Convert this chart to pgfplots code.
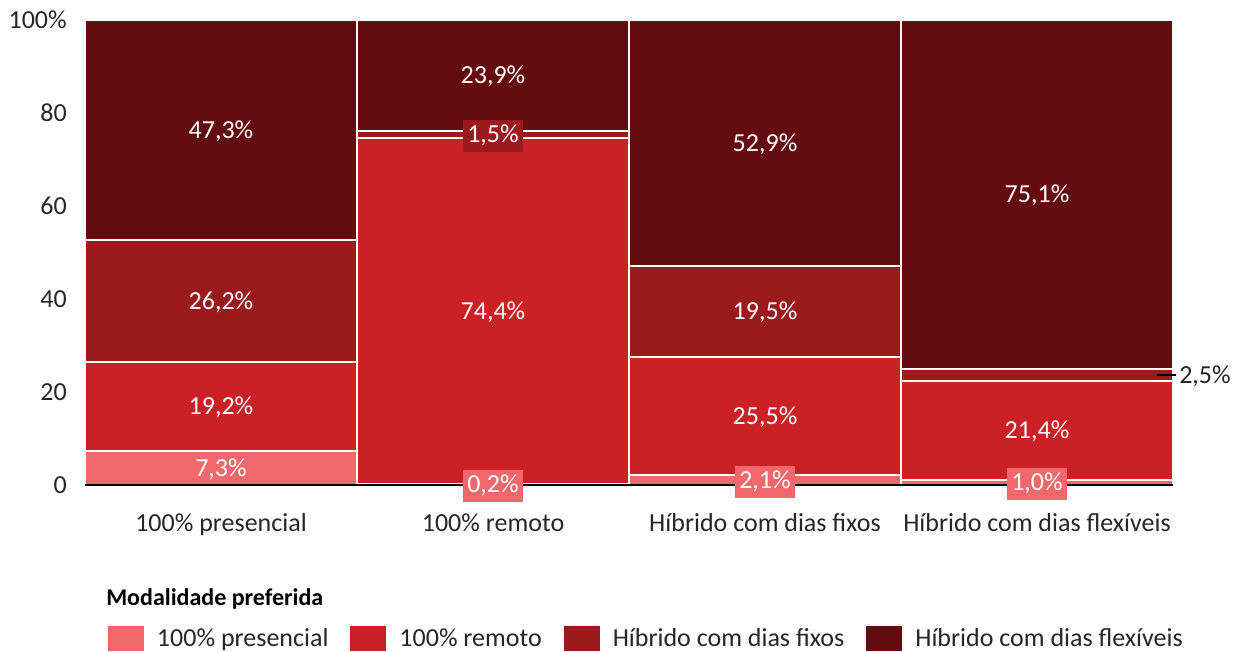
\documentclass[border=0pt]{standalone}
\usepackage{pgfplots}
\pgfplotsset{compat=1.18}
\usepackage{fontspec}
\setmainfont{Carlito}
\definecolor{cPres}{HTML}{F0686B}
\definecolor{cRem}{HTML}{CC2027}
\definecolor{cFix}{HTML}{9A1A1E}
\definecolor{cFlex}{HTML}{640C10}
\definecolor{txt}{HTML}{262626}
\newcommand\fs{\fontsize{19.5}{23}\selectfont}
\begin{document}
\begin{tikzpicture}[lab/.style={font=\fs, text=white, anchor=base, yshift=-6.2pt, inner sep=0pt},
  box/.style={font=\fs, text=white, anchor=base, yshift=-6.2pt, inner xsep=3pt, inner ysep=4pt, text height=13pt, text depth=3pt}]
\path[use as bounding box] (0pt,0pt) rectangle (925.5pt,489pt);
\begin{axis}[
  at={(63.75pt,125.25pt)}, anchor=south west,
  scale only axis, width=816pt, height=348.75pt,
  axis on top,
  ybar stacked, bar width=1,
  xmin=-0.5, xmax=3.5, ymin=0, ymax=100,
  enlargelimits=false, clip=false,
  axis x line*=bottom, axis y line*=left,
  y axis line style={draw=none},
  x axis line style={draw=black, line width=1.5pt, -},
  xtick={0,1,2,3},
  xticklabels={100\% presencial, 100\% remoto, Híbrido com dias fixos, Híbrido com dias flexíveis},
  ytick={0,20,40,60,80,100},
  yticklabels={0,20,40,60,80,100\%},
  major tick length=0pt,
  tick style={draw=none},
  tick label style={font=\fs, text=txt},
  xticklabel style={anchor=base, inner sep=0pt, yshift=-35.25pt},
  yticklabel style={anchor=base east, inner sep=0pt, xshift=-13.5pt, yshift=-6.2pt},
  every axis plot/.append style={draw=white, line width=1.5pt},
  legend columns=4,
  legend style={at={(rel axis cs:0.02114,-0.3032)}, anchor=north west, draw=none,
    inner sep=0pt, outer sep=0pt, font=\fs, text=txt,
    nodes={inner sep=0pt, text height=13pt, text depth=4pt},
    /tikz/every even column/.append style={column sep=16.5pt}},
  legend image code/.code={\fill[#1, draw=none] (0pt,-7.6pt) rectangle (27pt,11.15pt); \path (36pt,0pt);},
]
\addplot[fill=cPres] coordinates {(0,7.3) (1,0.2) (2,2.1) (3,1.0)};
\addplot[fill=cRem] coordinates {(0,19.2) (1,74.4) (2,25.5) (3,21.4)};
\addplot[fill=cFix] coordinates {(0,26.2) (1,1.5) (2,19.5) (3,2.5)};
\addplot[fill=cFlex] coordinates {(0,47.3) (1,23.9) (2,52.9) (3,75.1)};
\legend{100\% presencial, 100\% remoto, Híbrido com dias fixos, Híbrido com dias flexíveis}

\coordinate (p1) at (axis cs:0,3.65);
\coordinate (p2) at (axis cs:0,16.9);
\coordinate (p3) at (axis cs:0,39.6);
\coordinate (p4) at (axis cs:0,76.35);
\coordinate (r1) at (axis cs:1,0.1);
\coordinate (r2) at (axis cs:1,37.4);
\coordinate (r3) at (axis cs:1,75.35);
\coordinate (r4) at (axis cs:1,88.05);
\coordinate (f1) at (axis cs:2,1.05);
\coordinate (f2) at (axis cs:2,14.85);
\coordinate (f3) at (axis cs:2,37.35);
\coordinate (f4) at (axis cs:2,73.55);
\coordinate (x1) at (axis cs:3,0.5);
\coordinate (x2) at (axis cs:3,11.7);
\coordinate (x3a) at (axis cs:3.441,23.65);
\coordinate (x3b) at (axis cs:3.511,23.65);
\coordinate (x3c) at (axis cs:3.522,23.65);
\coordinate (x4) at (axis cs:3,62.45);
\node[font=\bfseries\fontsize{18}{22}\selectfont, text=black, anchor=base west, inner sep=0pt] at (rel axis cs:0.0193,-0.2581) {Modalidade preferida};
\end{axis}
\node[lab] at (p1) {7,3\%};
\node[lab] at (p2) {19,2\%};
\node[lab] at (p3) {26,2\%};
\node[lab] at (p4) {47,3\%};
\node[box, fill=cPres] at (r1) {0,2\%};
\node[lab] at (r2) {74,4\%};
\node[box, fill=cFix] at (r3) {1,5\%};
\node[lab] at (r4) {23,9\%};
\node[box, fill=cPres] at (f1) {2,1\%};
\node[lab] at (f2) {25,5\%};
\node[lab] at (f3) {19,5\%};
\node[lab] at (f4) {52,9\%};
\node[box, fill=cPres] at (x1) {1,0\%};
\node[lab] at (x2) {21,4\%};
\draw[black, line width=1.5pt] (x3a) -- (x3b);
\node[font=\fs, text=txt, anchor=base west, inner sep=0pt, yshift=-6.2pt] at (x3c) {2,5\%};
\node[lab] at (x4) {75,1\%};
\end{tikzpicture}
\end{document}
